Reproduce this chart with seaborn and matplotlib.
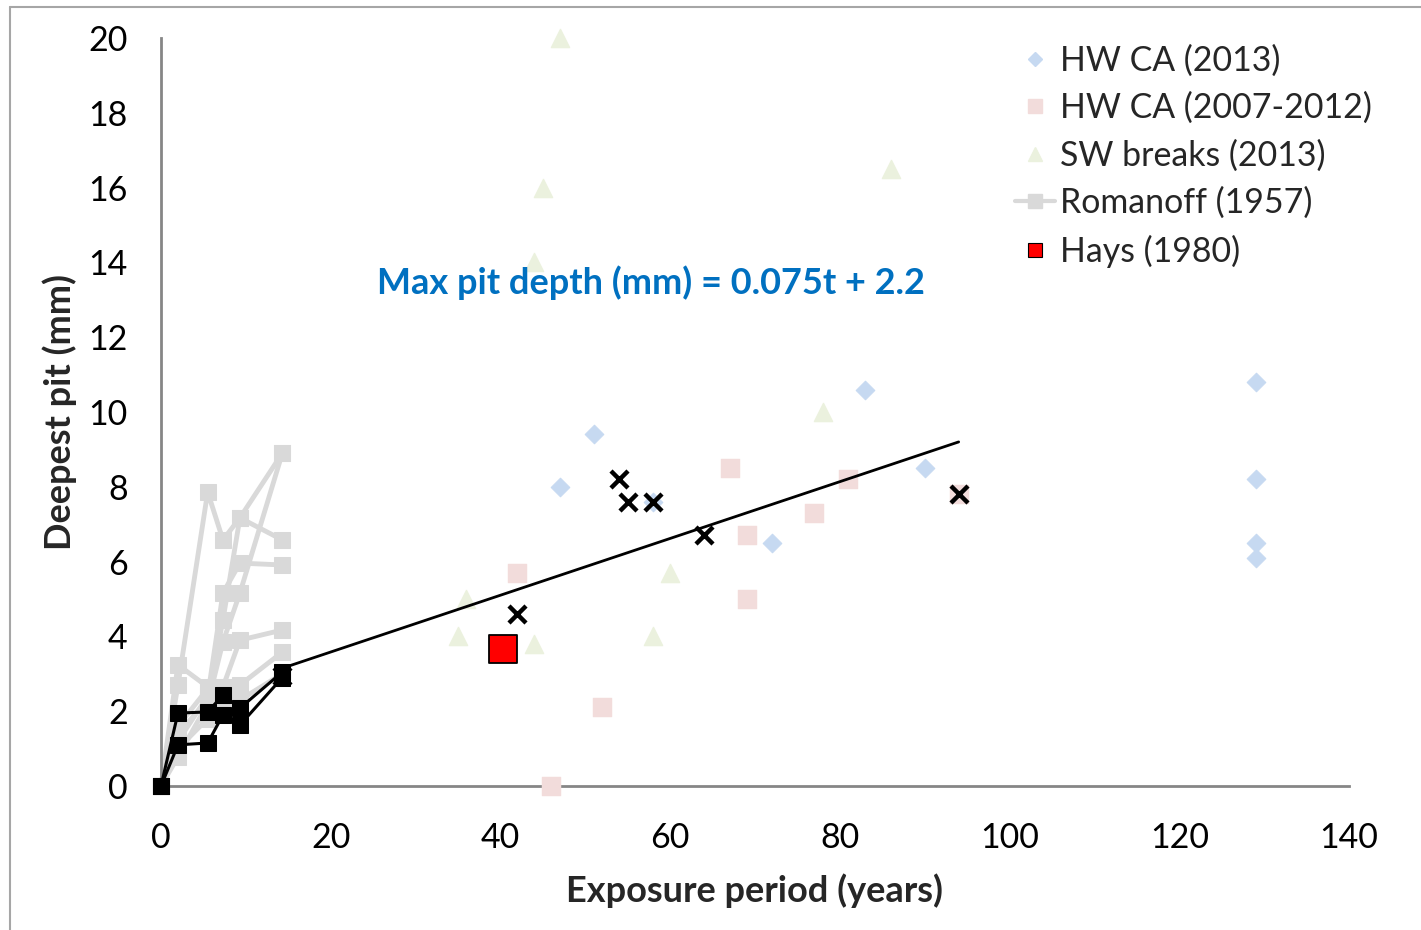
import numpy as np
import pandas as pd
import matplotlib
matplotlib.use("Agg")
import matplotlib.pyplot as plt
from matplotlib.lines import Line2D
import seaborn as sns

sns.set_style("white")
plt.rcParams['font.family'] = ['Lato', 'DejaVu Sans']

# ---------------- data ----------------
hw2013_x = [47, 51, 58, 72, 83, 90, 129, 129, 129, 129]
hw2013_y = [8.0, 9.4, 7.6, 6.5, 10.6, 8.5, 10.8, 8.2, 6.5, 6.1]

hw0712_x = [42, 46, 52, 67, 69, 69, 77, 81, 94]
hw0712_y = [5.7, 0.0, 2.1, 8.5, 6.7, 5.0, 7.3, 8.2, 7.8]

sw_x = [47, 45, 44, 86, 78, 60, 36, 35, 44, 58]
sw_y = [20.0, 16.0, 14.0, 16.5, 10.0, 5.7, 5.0, 4.0, 3.8, 4.0]

rom_x = [0, 2, 5.5, 7.3, 9.3, 14.3]
rom_gray = {
    "g1": [0, 2.7, 7.86, 6.58, 7.17, 6.58],
    "g2": [0, 1.4, 2.3, 4.44, 7.17, 8.9],
    "g3": [0, 1.2, 2.4, 5.16, 5.96, 5.91],
    "g4": [0, 0.78, 2.2, 3.85, 5.16, 8.9],
    "g5": [0, 3.24, 2.65, 2.65, 3.9, 4.17],
    "g6": [0, 1.6, 2.6, 2.65, 2.7, 3.58],
    "g7": [0, 1.0, 1.8, 2.2, 2.3, 3.0],
}
rom_black = {
    "b1": [0, 1.95, 1.98, 2.43, 2.08, 3.05],
    "b2": [0, 1.1, 1.15, 1.9, 1.63, 2.9],
}

cross_x = [14.3, 42, 54, 55, 58, 64, 94]
cross_y = [2.95, 4.6, 8.2, 7.6, 7.6, 6.7, 7.8]

hays_x = [40.3]
hays_y = [3.65]

trend_x = [14.3, 94]
trend_y = [3.15, 9.2]

legend_labels = ["HW CA (2013)", "HW CA (2007-2012)", "SW breaks (2013)",
                 "Romanoff (1957)", "Hays (1980)"]

# ---------------- colours ----------------
c_blue = "#C6D9F1"
c_pink = "#F2DCDB"
c_green = "#EBF1DE"
c_gray = "#D9D9D9"
c_red = "#FF0000"
c_axis = "#868686"

fig = plt.figure(figsize=(14.21, 9.30), dpi=100)
ax = fig.add_axes([161/1421, 144/930, (1349-161)/1421, (786-38)/930])

def long_df(d):
    rows = []
    for k, ys in d.items():
        for x, y in zip(rom_x, ys):
            rows.append((k, x, y))
    return pd.DataFrame(rows, columns=["series", "x", "y"])

df_gray = long_df(rom_gray)
df_black = long_df(rom_black)

sns.lineplot(data=df_gray, x="x", y="y", units="series", estimator=None,
             color=c_gray, lw=3.5, marker="s", markersize=11,
             markeredgecolor=c_gray, ax=ax, sort=False, zorder=2)
sns.lineplot(data=df_black, x="x", y="y", units="series", estimator=None,
             color="black", lw=2.2, marker="s", markersize=11,
             markeredgecolor="black", ax=ax, sort=False, zorder=4)

sns.scatterplot(x=hw2013_x, y=hw2013_y, marker="D", s=90, color=c_blue,
                edgecolor=c_blue, ax=ax, zorder=3)
sns.scatterplot(x=hw0712_x, y=hw0712_y, marker="s", s=170, color=c_pink,
                edgecolor=c_pink, ax=ax, zorder=3)
sns.scatterplot(x=sw_x, y=sw_y, marker="^", s=170, color=c_green,
                edgecolor=c_green, ax=ax, zorder=3)

sns.lineplot(x=trend_x, y=trend_y, color="black", lw=2.0, ax=ax, zorder=5)

sns.scatterplot(x=cross_x, y=cross_y, marker="x", s=150, color="black",
                linewidth=3.2, ax=ax, zorder=6)
sns.scatterplot(x=hays_x, y=hays_y, marker="s", s=420, color=c_red,
                edgecolor="black", linewidth=1.3, ax=ax, zorder=7)

ax.set_xlim(0, 140)
ax.set_ylim(0, 20)
ax.set_xticks(np.arange(0, 141, 20))
ax.set_yticks(np.arange(0, 21, 2))
for s in ["top", "right"]:
    ax.spines[s].set_visible(False)
for s in ["left", "bottom"]:
    ax.spines[s].set_color(c_axis)
    ax.spines[s].set_linewidth(2)
ax.tick_params(axis="both", direction="out", length=9, width=2,
               color=c_axis, labelsize=24.5, labelcolor="black")
ax.tick_params(axis="x", pad=17)
ax.tick_params(axis="y", pad=15)
for art in ax.collections + ax.lines:
    art.set_clip_on(False)

ax.set_xlabel("Exposure period (years)", fontsize=26, fontweight="bold",
              labelpad=14)
ax.set_ylabel("Deepest pit (mm)", fontsize=26, fontweight="bold", labelpad=8)

ax.text(57.7, 13.45, "Max pit depth (mm) = 0.075t + 2.2", color="#0070C0",
        fontsize=26, fontweight="bold", ha="center", va="center")

handles = [
    Line2D([], [], ls="none", marker="D", ms=7, color=c_blue, mec=c_blue),
    Line2D([], [], ls="none", marker="s", ms=10, color=c_pink, mec=c_pink),
    Line2D([], [], ls="none", marker="^", ms=10, color=c_green, mec=c_green),
    Line2D([], [], ls="-", lw=3, marker="s", ms=10, color=c_gray, mec=c_gray),
    Line2D([], [], ls="none", marker="s", ms=10, color=c_red, mec="black",
           mew=0.8),
]
leg = ax.legend(handles, legend_labels, loc="upper left",
                bbox_to_anchor=(984/1421, 1 - 14/930),
                bbox_transform=fig.transFigure, frameon=False, fontsize=24.4,
                handlelength=1.2, handletextpad=0.15, labelspacing=0.45,
                borderpad=0.4)

# outer frame (left and top edges visible)
fig.add_artist(Line2D([10/1421, 10/1421], [0, 1 - 7/930],
                      transform=fig.transFigure, color="#A6A6A6", lw=1.5))
fig.add_artist(Line2D([10/1421, 1], [1 - 7/930, 1 - 7/930],
                      transform=fig.transFigure, color="#A6A6A6", lw=1.5))

fig.savefig("out.png", dpi=100, facecolor="white")
